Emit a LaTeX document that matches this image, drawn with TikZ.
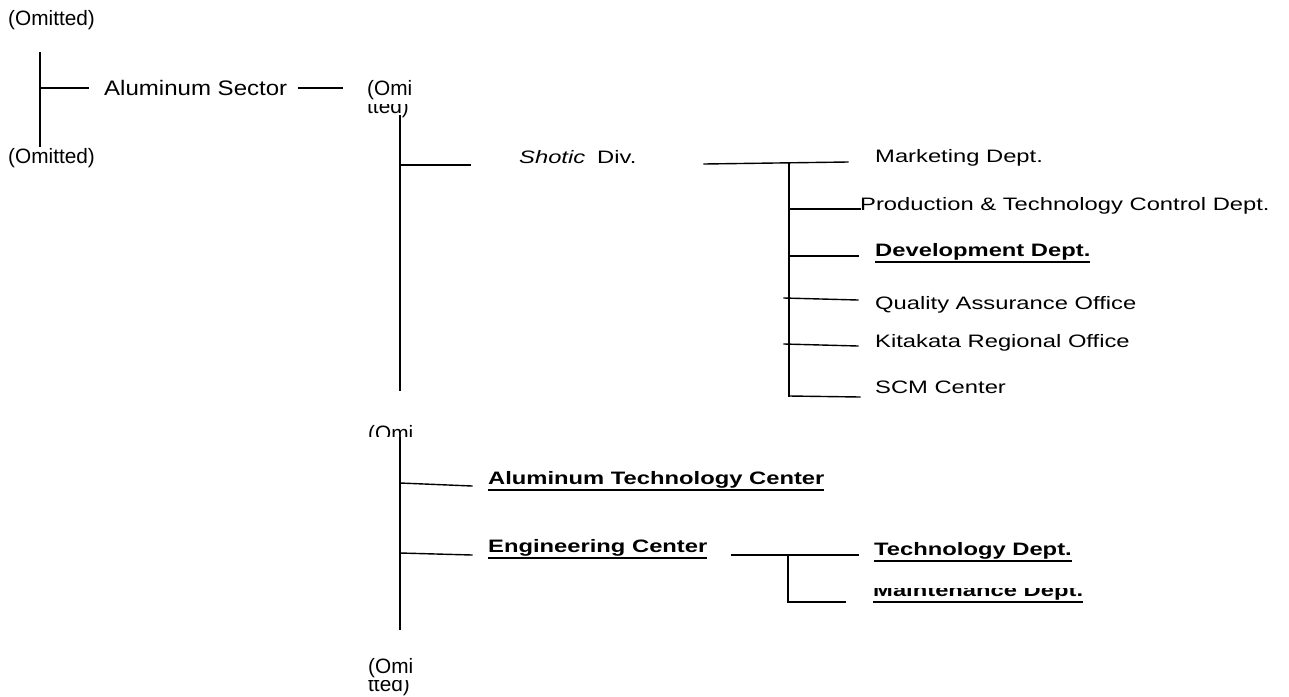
\documentclass[tikz,border=0pt]{standalone}
\usepackage{fontspec}
\setmainfont{Liberation Sans}
\newcommand\sx[1]{\scalebox{1.32}[1]{#1}}
\newcommand\bul[1]{\setbox0=\hbox{\bfseries\sx{#1}}\rlap{\rule[-7pt]{\wd0}{2pt}}\box0}
\tikzset{
  conn/.style={line width=1.4pt, line cap=rect},
  lbl/.style={anchor=base west, inner sep=0pt, font=\fontsize{18}{20}\selectfont},
  om/.style={anchor=base west, inner sep=0pt, font=\fontsize{20.8}{22}\selectfont},
  sect/.style={anchor=base west, inner sep=0pt, font=\fontsize{21}{23}\selectfont},
}
\begin{document}
\begin{tikzpicture}[x=1pt,y=-1pt]
\useasboundingbox (0,0) rectangle (1289,696);
\clip (0,0) rectangle (1289,696);
% left part
\node[om] (om1) at (8,25) {(Omitted)};
\node[om] (om2) at (8,163) {(Omitted)};
\node[sect] (alsec) at (104,95) {\scalebox{1.145}[1]{Aluminum Sector}};
\coordinate (v1t) at (40,53); \coordinate (v1b) at (40,146);
\coordinate (v1j) at (40,88); \coordinate (v1e) at (88,88);
\coordinate (a1) at (299,88); \coordinate (a2) at (342,88);
\draw[conn] (v1t) -- (v1b);
\draw[conn] (v1j) -- (v1e);
\draw[conn] (a1) -- (a2);
% top omitted (clipped second line)
\node[om] (om3) at (367,95) {(Omi};
\begin{scope}
\clip (340,104) rectangle (430,130);
\node[om] (om3b) at (367,113) {tted)};
\end{scope}
% main vertical
\coordinate (v2t) at (400,116); \coordinate (v2b) at (400,390);
\draw[conn] (v2t) -- (v2b);
\coordinate (s1) at (400,165); \coordinate (s2) at (470,165);
\draw[conn] (s1) -- (s2);
\node[lbl] (shotic) at (519,163) {\sx{\itshape Shotic}\hspace{12pt}\sx{Div.}};
\coordinate (d1) at (704,164); \coordinate (d2) at (848,162);
\draw[conn] (d1) -- (d2);
\coordinate (v3t) at (789,163); \coordinate (v3b) at (789,396);
\draw[conn] (v3t) -- (v3b);
\coordinate (b2a) at (789,209); \coordinate (b2b) at (860,209);
\coordinate (b3a) at (789,256); \coordinate (b3b) at (858,256);
\coordinate (b4a) at (784,298); \coordinate (b4b) at (858,300);
\coordinate (b5a) at (784,344); \coordinate (b5b) at (858,346);
\coordinate (b6b) at (860,397);
\draw[conn] (b2a) -- (b2b);
\draw[conn] (b3a) -- (b3b);
\draw[conn] (b4a) -- (b4b);
\draw[conn] (b5a) -- (b5b);
\draw[conn] (v3b) -- (b6b);
\node[lbl] (mkt) at (875,162) {\sx{Marketing Dept.}};
\node[lbl] (prod) at (860,210) {\sx{Production \& Technology Control Dept.}};
\node[lbl] (dev) at (875,256) {\bul{Development Dept.}};
\node[lbl] (qa) at (875,309) {\sx{Quality Assurance Office}};
\node[lbl] (kit) at (875,347) {\sx{Kitakata Regional Office}};
\node[lbl] (scm) at (875,393) {\sx{SCM Center}};
% middle omitted (clipped)
\begin{scope}
\clip (340,400) rectangle (430,436);
\node[om] (om4) at (368,440) {(Omi};
\end{scope}
\coordinate (v4t) at (400,438); \coordinate (v4b) at (400,629);
\draw[conn] (v4t) -- (v4b);
\coordinate (c1a) at (400,483); \coordinate (c1b) at (472,486);
\coordinate (c2a) at (400,553); \coordinate (c2b) at (472,555);
\draw[conn] (c1a) -- (c1b);
\draw[conn] (c2a) -- (c2b);
\node[lbl] (atc) at (488,484) {\bul{Aluminum Technology Center}};
\node[lbl] (ec) at (488,552) {\bul{Engineering Center}};
\coordinate (e1) at (732,555); \coordinate (e2) at (858,555);
\draw[conn] (e1) -- (e2);
\coordinate (v5t) at (788,555); \coordinate (v5b) at (788,602);
\coordinate (m2) at (845,602);
\draw[conn] (v5t) -- (v5b) -- (m2);
\node[lbl] (tech) at (874,555) {\bul{Technology Dept.}};
\begin{scope}
\clip (860,588) rectangle (1110,620);
\node[lbl] (mnt) at (873,596) {\bul{Maintenance Dept.}};
\end{scope}
% bottom omitted
\node[om] (om5) at (368,673) {(Omi};
\begin{scope}
\clip (340,680) rectangle (430,696);
\node[om] (om5b) at (368,691) {tted)};
\end{scope}
\end{tikzpicture}
\end{document}
